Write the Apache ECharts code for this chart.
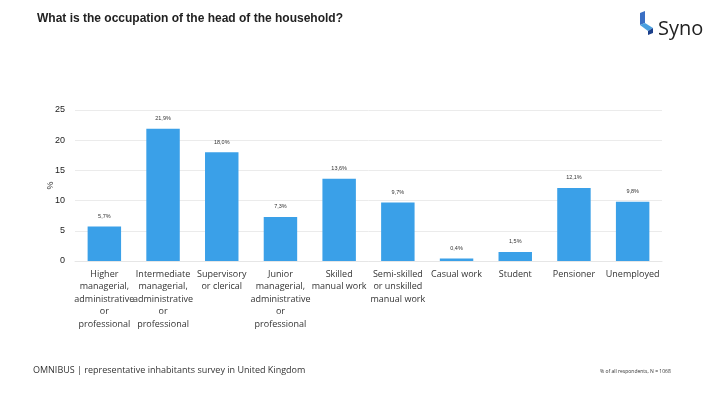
<!DOCTYPE html>
<html><head><meta charset="utf-8">
<script src="https://cdn.jsdelivr.net/npm/echarts@6/dist/echarts.min.js"></script>
<style>html,body{margin:0;padding:0;background:#fff}#c{width:720px;height:405px}</style>
</head><body><div id="c"></div>
<script>
var categories = ["Higher\nmanagerial,\nadministrative\nor\nprofessional","Intermediate\nmanagerial,\nadministrative\nor\nprofessional","Supervisory\nor clerical","Junior\nmanagerial,\nadministrative\nor\nprofessional","Skilled\nmanual work","Semi-skilled\nor unskilled\nmanual work","Casual work","Student","Pensioner","Unemployed"];
var values = [5.7, 21.9, 18.0, 7.3, 13.6, 9.7, 0.4, 1.5, 12.1, 9.8];
var yTicks = [0, 5, 10, 15, 20, 25];
var title = "What is the occupation of the head of the household?";
var footer = "OMNIBUS | representative inhabitants survey in United Kingdom";
var note = "% of all respondents, N = 1068";

var chart = echarts.init(document.getElementById('c'));
chart.setOption({
  animation: false,
  textStyle: {fontFamily: 'Liberation Sans, Arial, sans-serif'},
  grid: {left: 75, right: 58, top: 110, bottom: 144},
  xAxis: {
    type: 'category', data: categories,
    axisLine: {show: true, lineStyle: {color: '#e6e6e6'}},
    axisTick: {show: false},
    axisLabel: {interval: 0, color: '#333', fontSize: 9, lineHeight: 12.5, margin: 7, fontFamily: 'Open Sans, sans-serif', overflow: 'none'}
  },
  yAxis: {
    type: 'value', min: yTicks[0], max: yTicks[yTicks.length-1], interval: 5,
    name: '%', nameLocation: 'middle', nameGap: 20, nameRotate: 90, nameMoveOverlap: false,
    nameTextStyle: {color: '#333', fontSize: 9},
    axisLine: {show: false}, axisTick: {show: false},
    axisLabel: {color: '#222', fontSize: 9, margin: 10},
    splitLine: {lineStyle: {color: '#ebebeb'}}
  },
  series: [{
    type: 'bar', data: values, barWidth: '57%',
    itemStyle: {color: '#3aa0e8'},
    label: {show: true, position: 'top', distance: 7, fontSize: 5.5, color: '#333',
      formatter: function(p){ return p.value.toFixed(1).replace('.', ',') + '%'; }}
  }],
  graphic: [
    {type: 'text', left: 37, top: 13, style: {text: title, fontSize: 12, fontWeight: 'bold', fill: '#222', fontFamily: 'Liberation Sans, Arial, sans-serif'}},
    {type: 'text', left: 33, top: 366, style: {text: footer, fontSize: 9, fill: '#333', fontFamily: 'Open Sans, sans-serif'}},
    {type: 'text', left: 600, top: 369, style: {text: note, fontSize: 5, fill: '#333', fontFamily: 'Open Sans, sans-serif'}},
    {type: 'polygon', shape: {points: [[640,13],[645,11],[645,23],[640,25]]}, style: {fill: '#3a6fc4'}},
    {type: 'polygon', shape: {points: [[640,25],[645,23],[653,28],[648,31]]}, style: {fill: '#4aa0e0'}},
    {type: 'polygon', shape: {points: [[648,31],[653,28],[653,33],[648,35]]}, style: {fill: '#1c3f8a'}},
    {type: 'text', left: 658, top: 19, style: {text: 'Syno', fontSize: 20, fill: '#222', fontFamily: 'Open Sans, sans-serif'}}
  ]
});
</script></body></html>
